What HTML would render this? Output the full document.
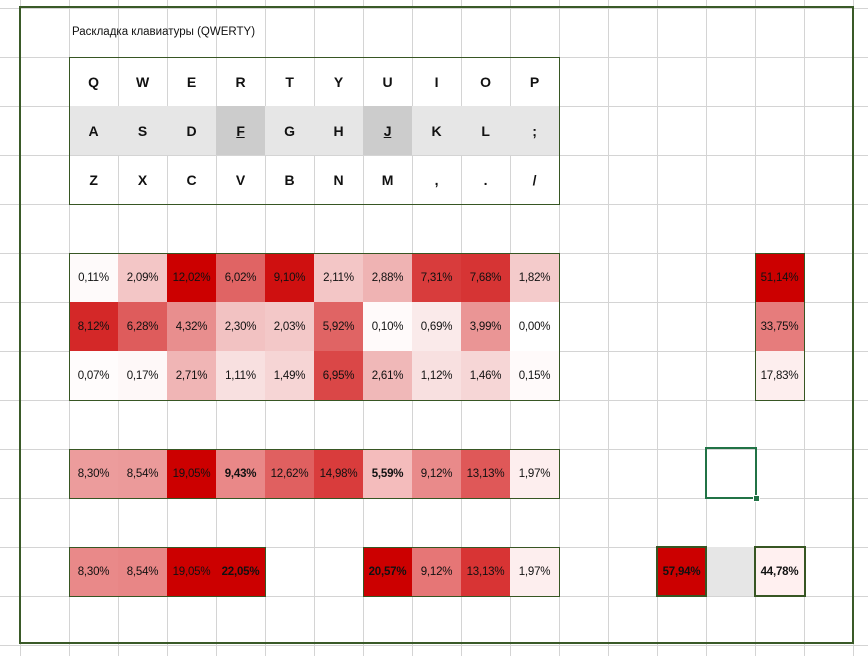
<!DOCTYPE html>
<html><head><meta charset="utf-8"><style>
body{margin:0;width:868px;height:656px;overflow:hidden;background:#fff;position:relative;font-family:"Liberation Sans",sans-serif;}
.grid{position:absolute;left:0;top:0;width:868px;height:656px;
background-image:linear-gradient(to right,#d4d4d4 1px,transparent 1px),linear-gradient(to bottom,#d4d4d4 1px,transparent 1px);
background-size:49px 49px;background-position:20px 8px;}
.c{position:absolute;width:49px;height:49px;display:flex;align-items:center;justify-content:center;font-size:11.5px;color:#111;letter-spacing:-0.2px;}
.k{font-size:14px;font-weight:bold;color:#111;}
.b{font-weight:bold;}
.box{position:absolute;border:1px solid #375623;box-sizing:border-box;}
</style></head><body>
<div class="grid"></div>
<div style="position:absolute;left:19px;top:6px;width:835px;height:638px;border:2px solid #3a5a28;box-sizing:border-box;"></div>
<div style="position:absolute;left:72px;top:26px;font-size:11.5px;color:#111;">Раскладка клавиатуры (QWERTY)</div>

<!-- keyboard -->
<div style="position:absolute;left:69px;top:106px;width:490px;height:49px;background:#e6e6e6"></div>
<div style="position:absolute;left:216px;top:106px;width:49px;height:49px;background:#cccccc"></div>
<div style="position:absolute;left:363px;top:106px;width:49px;height:49px;background:#cccccc"></div>
<div class="c k" style="left:69px;top:57px">Q</div><div class="c k" style="left:118px;top:57px">W</div><div class="c k" style="left:167px;top:57px">E</div><div class="c k" style="left:216px;top:57px">R</div><div class="c k" style="left:265px;top:57px">T</div><div class="c k" style="left:314px;top:57px">Y</div><div class="c k" style="left:363px;top:57px">U</div><div class="c k" style="left:412px;top:57px">I</div><div class="c k" style="left:461px;top:57px">O</div><div class="c k" style="left:510px;top:57px">P</div>
<div class="c k" style="left:69px;top:106px">A</div><div class="c k" style="left:118px;top:106px">S</div><div class="c k" style="left:167px;top:106px">D</div><div class="c k" style="left:216px;top:106px;text-decoration:underline">F</div><div class="c k" style="left:265px;top:106px">G</div><div class="c k" style="left:314px;top:106px">H</div><div class="c k" style="left:363px;top:106px;text-decoration:underline">J</div><div class="c k" style="left:412px;top:106px">K</div><div class="c k" style="left:461px;top:106px">L</div><div class="c k" style="left:510px;top:106px">;</div>
<div class="c k" style="left:69px;top:155px">Z</div><div class="c k" style="left:118px;top:155px">X</div><div class="c k" style="left:167px;top:155px">C</div><div class="c k" style="left:216px;top:155px">V</div><div class="c k" style="left:265px;top:155px">B</div><div class="c k" style="left:314px;top:155px">N</div><div class="c k" style="left:363px;top:155px">M</div><div class="c k" style="left:412px;top:155px">,</div><div class="c k" style="left:461px;top:155px">.</div><div class="c k" style="left:510px;top:155px">/</div>
<div class="box" style="left:69px;top:57px;width:491px;height:148px"></div>

<!-- heat rows 1-3 -->
<div class="c" style="left:69px;top:253px;background:#fefafa">0,11%</div><div class="c" style="left:118px;top:253px;background:#f3c6c6">2,09%</div><div class="c" style="left:167px;top:253px;background:#cc0000">12,02%</div><div class="c" style="left:216px;top:253px;background:#e06464">6,02%</div><div class="c" style="left:265px;top:253px;background:#cf1010">9,10%</div><div class="c" style="left:314px;top:253px;background:#f3c6c6">2,11%</div><div class="c" style="left:363px;top:253px;background:#efb3b3">2,88%</div><div class="c" style="left:412px;top:253px;background:#d83c3c">7,31%</div><div class="c" style="left:461px;top:253px;background:#d63434">7,68%</div><div class="c" style="left:510px;top:253px;background:#f4cbcb">1,82%</div>
<div class="c" style="left:69px;top:302px;background:#d42828">8,12%</div><div class="c" style="left:118px;top:302px;background:#de5c5c">6,28%</div><div class="c" style="left:167px;top:302px;background:#e88e8e">4,32%</div><div class="c" style="left:216px;top:302px;background:#f2c2c2">2,30%</div><div class="c" style="left:265px;top:302px;background:#f3c8c8">2,03%</div><div class="c" style="left:314px;top:302px;background:#e06464">5,92%</div><div class="c" style="left:363px;top:302px;background:#fffafa">0,10%</div><div class="c" style="left:412px;top:302px;background:#faeaea">0,69%</div><div class="c" style="left:461px;top:302px;background:#ea9595">3,99%</div><div class="c" style="left:510px;top:302px;background:#ffffff">0,00%</div>
<div class="c" style="left:69px;top:351px;background:#fffcfc">0,07%</div><div class="c" style="left:118px;top:351px;background:#fef8f8">0,17%</div><div class="c" style="left:167px;top:351px;background:#f0b5b5">2,71%</div><div class="c" style="left:216px;top:351px;background:#f8e0e0">1,11%</div><div class="c" style="left:265px;top:351px;background:#f6d5d5">1,49%</div><div class="c" style="left:314px;top:351px;background:#da4747">6,95%</div><div class="c" style="left:363px;top:351px;background:#f0b8b8">2,61%</div><div class="c" style="left:412px;top:351px;background:#f8e0e0">1,12%</div><div class="c" style="left:461px;top:351px;background:#f6d6d6">1,46%</div><div class="c" style="left:510px;top:351px;background:#fffafa">0,15%</div>
<div class="box" style="left:69px;top:253px;width:491px;height:148px"></div>

<!-- right column -->
<div class="c" style="left:755px;top:253px;background:#cc0000">51,14%</div>
<div class="c" style="left:755px;top:302px;background:#e67c7c">33,75%</div>
<div class="c" style="left:755px;top:351px;background:#fdeeee">17,83%</div>
<div class="box" style="left:755px;top:253px;width:50px;height:148px"></div>

<!-- row 4 -->
<div class="c" style="left:69px;top:449px;background:#ec9c9c">8,30%</div><div class="c" style="left:118px;top:449px;background:#eb9a9a">8,54%</div><div class="c" style="left:167px;top:449px;background:#cc0000">19,05%</div><div class="c b" style="left:216px;top:449px;background:#e98888">9,43%</div><div class="c" style="left:265px;top:449px;background:#e06060">12,62%</div><div class="c" style="left:314px;top:449px;background:#d93c3c">14,98%</div><div class="c b" style="left:363px;top:449px;background:#f4bcbc">5,59%</div><div class="c" style="left:412px;top:449px;background:#e98a8a">9,12%</div><div class="c" style="left:461px;top:449px;background:#df5858">13,13%</div><div class="c" style="left:510px;top:449px;background:#fdeeee">1,97%</div>
<div class="box" style="left:69px;top:449px;width:491px;height:50px"></div>

<!-- row 5 -->
<div class="c" style="left:69px;top:547px;background:#e98989">8,30%</div><div class="c" style="left:118px;top:547px;background:#e88686">8,54%</div><div class="c" style="left:167px;top:547px;background:#cc0000">19,05%</div><div class="c b" style="left:216px;top:547px;background:#cc0000">22,05%</div>
<div class="c b" style="left:363px;top:547px;background:#cc0000">20,57%</div><div class="c" style="left:412px;top:547px;background:#e67676">9,12%</div><div class="c" style="left:461px;top:547px;background:#d83434">13,13%</div><div class="c" style="left:510px;top:547px;background:#fdeeee">1,97%</div>
<div class="box" style="left:69px;top:547px;width:197px;height:50px"></div>
<div class="box" style="left:363px;top:547px;width:197px;height:50px"></div>

<div class="c b" style="left:657px;top:547px;background:#cc0000">57,94%</div>
<div style="position:absolute;left:706px;top:547px;width:49px;height:49px;background:#e6e6e6"></div>
<div class="c b" style="left:755px;top:547px;background:#fff0f0">44,78%</div>
<div style="position:absolute;left:656px;top:546px;width:51px;height:51px;border:2px solid #375623;box-sizing:border-box"></div>
<div style="position:absolute;left:754px;top:546px;width:52px;height:51px;border:2px solid #375623;box-sizing:border-box"></div>

<!-- selected cell -->
<div style="position:absolute;left:705px;top:447px;width:52px;height:52px;border:2px solid #217346;box-sizing:border-box"></div>
<div style="position:absolute;left:753px;top:495px;width:5px;height:5px;background:#217346;border:1px solid #fff"></div>
</body></html>
